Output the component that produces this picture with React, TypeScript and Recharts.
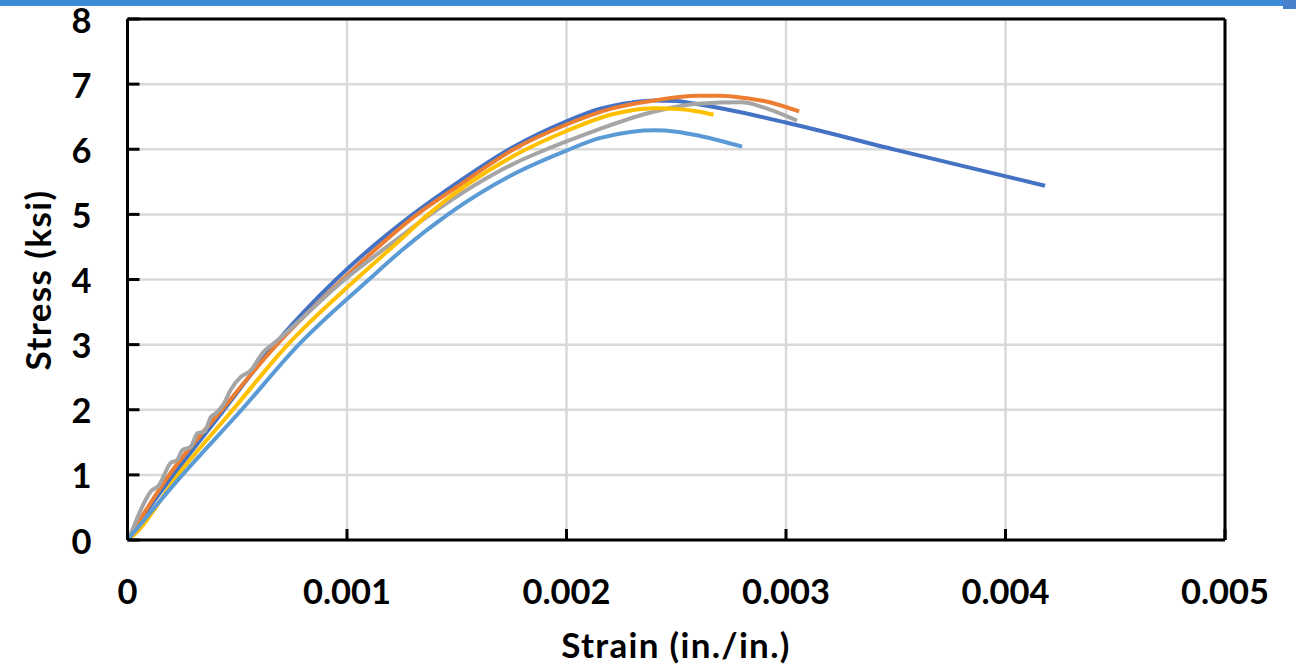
import React from 'react';
import { LineChart, Line, XAxis, YAxis, CartesianGrid, ReferenceLine } from 'recharts';

const xTicks = [0, 0.001, 0.002, 0.003, 0.004, 0.005];
const xTickLabels = ['0', '0.001', '0.002', '0.003', '0.004', '0.005'];
const yTicks = [0, 1, 2, 3, 4, 5, 6, 7, 8];
const yTickLabels = ['0', '1', '2', '3', '4', '5', '6', '7', '8'];

const strain1 = [0, 0.0001, 0.00021, 0.00044, 0.00067, 0.00095, 0.0013, 0.0015, 0.00176, 0.002, 0.00215, 0.0023, 0.0024, 0.0025, 0.0026, 0.00276, 0.003, 0.0035, 0.00418];
const stress1 = [0, 0.5, 1.0, 2.0, 3.0, 4.0, 5.0, 5.48, 6.04, 6.43, 6.62, 6.72, 6.75, 6.74, 6.69, 6.59, 6.41, 5.99, 5.44];

const strain2 = [0, 0.00019, 0.00043, 0.00068, 0.00098, 0.00132, 0.0015, 0.00176, 0.002, 0.0022, 0.0024, 0.0026, 0.0027, 0.0028, 0.0029, 0.00306];
const stress2 = [0, 1.0, 2.0, 3.0, 4.0, 5.0, 5.42, 6.0, 6.38, 6.62, 6.75, 6.82, 6.82, 6.79, 6.74, 6.58];

const strain3 = [0, 0.000015, 0.00006, 0.000105, 0.000143, 0.000196, 0.000227, 0.00025, 0.000288, 0.000319, 0.00035, 0.00038, 0.0004, 0.00044, 0.000469, 0.000515, 0.00056, 0.00062, 0.00066, 0.00099, 0.00124, 0.00138, 0.00176, 0.00191, 0.002, 0.00215, 0.0024, 0.0026, 0.0028, 0.0029, 0.00305];
const stress3 = [0, 0.1, 0.46, 0.74, 0.84, 1.18, 1.23, 1.38, 1.43, 1.64, 1.66, 1.89, 1.94, 2.1, 2.3, 2.5, 2.6, 2.89, 3.0, 4.0, 4.65, 5.0, 5.78, 6.0, 6.12, 6.31, 6.58, 6.7, 6.72, 6.64, 6.44];

const strain4 = [0, 0.00003, 0.00023, 0.00048, 0.00073, 0.00104, 0.00124, 0.00137, 0.00176, 0.002, 0.0022, 0.0023, 0.0024, 0.0025, 0.0026, 0.00267];
const stress4 = [0, 0.08, 1.0, 2.0, 3.0, 4.0, 4.6, 5.0, 5.9, 6.28, 6.53, 6.6, 6.63, 6.62, 6.58, 6.53];

const strain5 = [0, 0.00025, 0.00052, 0.00078, 0.0011, 0.00125, 0.00146, 0.00176, 0.002, 0.00215, 0.0023, 0.0024, 0.0025, 0.0026, 0.0027, 0.0028];
const stress5 = [0, 1.0, 2.0, 3.0, 4.0, 4.45, 5.0, 5.62, 5.98, 6.17, 6.27, 6.29, 6.27, 6.21, 6.13, 6.04];

const seriesColors = ['#4472C4', '#ED7D31', '#A5A5A5', '#FFC000', '#5B9BD5'];

const toPoints = (xs: number[], ys: number[]) => xs.map((x, i) => ({ x, y: ys[i] }));

const series = [
  toPoints(strain1, stress1),
  toPoints(strain2, stress2),
  toPoints(strain3, stress3),
  toPoints(strain4, stress4),
  toPoints(strain5, stress5),
];

const FONT = 'Lato, "Open Sans", sans-serif';
const FS = 34.5;
const TFS = 35;

const XTick = (p: any) => {
  const idx = xTicks.findIndex((t) => Math.abs(t - p.payload.value) < 1e-9);
  return (
    <text x={p.x} y={p.y} textAnchor="middle" dominantBaseline="central" fontFamily={FONT} fontWeight={700} fontSize={FS} fill="#000">
      {idx >= 0 ? xTickLabels[idx] : String(p.payload.value)}
    </text>
  );
};

const YTick = (p: any) => {
  const idx = yTicks.findIndex((t) => Math.abs(t - p.payload.value) < 1e-9);
  return (
    <text x={p.x} y={p.y} textAnchor="end" dominantBaseline="central" fontFamily={FONT} fontWeight={700} fontSize={FS} fill="#000">
      {idx >= 0 ? yTickLabels[idx] : String(p.payload.value)}
    </text>
  );
};

export default function App() {
  return (
    <div style={{ position: 'absolute', left: 0, top: 0, width: 1296, height: 667, background: '#fff', overflow: 'hidden' }}>
      <LineChart width={1296} height={667} margin={{ top: 19, right: 71, bottom: 0, left: 0 }}>
        <CartesianGrid stroke="#D9D9D9" strokeWidth={2.5} />
        <XAxis
          type="number"
          dataKey="x"
          domain={[0, 0.005]}
          ticks={xTicks}
          height={127}
          axisLine={{ stroke: '#000', strokeWidth: 3 }}
          tickLine={{ stroke: '#000', strokeWidth: 3 }}
          tickSize={-11}
          tickMargin={61}
          tick={XTick}
          interval={0}
          allowDataOverflow
          label={() => (
            <text x={676} y={658} textAnchor="middle" fontFamily={FONT} fontWeight={700} fontSize={TFS} letterSpacing={1.3} fill="#000">
              Strain (in./in.)
            </text>
          )}
        />
        <YAxis
          type="number"
          domain={[0, 8]}
          ticks={yTicks}
          width={127.5}
          axisLine={{ stroke: '#000', strokeWidth: 3 }}
          tickLine={{ stroke: '#000', strokeWidth: 3 }}
          tickSize={-12}
          tickMargin={48}
          tick={YTick}
          interval={0}
          allowDataOverflow
          label={() => (
            <text transform="translate(37,280) rotate(-90)" textAnchor="middle" dominantBaseline="central" fontFamily={FONT} fontWeight={700} fontSize={TFS} letterSpacing={1.4} fill="#000">
              Stress (ksi)
            </text>
          )}
        />
        <ReferenceLine y={8} stroke="#000" strokeWidth={3} />
        <ReferenceLine x={0.005} stroke="#000" strokeWidth={3} />
        {series.map((d, i) => (
          <Line
            key={i}
            data={d}
            dataKey="y"
            type="monotone"
            stroke={seriesColors[i]}
            strokeWidth={4}
            dot={false}
            activeDot={false}
            isAnimationActive={false}
          />
        ))}
      </LineChart>
      <div style={{ position: 'absolute', left: 0, top: 0, width: 1296, height: 6, background: '#3B8BD9' }} />
      <div style={{ position: 'absolute', left: 1283, top: 0, width: 13, height: 9, background: '#4A80CC' }} />
    </div>
  );
}
